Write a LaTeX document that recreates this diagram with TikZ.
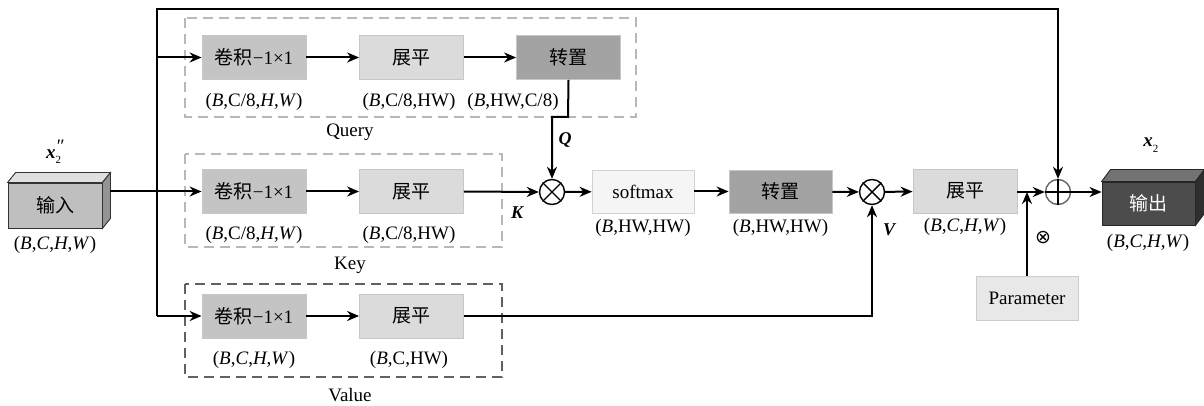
\documentclass[tikz,border=0pt]{standalone}
\usepackage{fontspec}
\setmainfont{Liberation Serif}
\newfontfamily\cjk{Noto Sans CJK SC}
\newfontfamily\dvs{DejaVu Sans}
\usetikzlibrary{arrows.meta,calc}
\newcommand{\xsub}[2]{\textbf{\textit{x}}\makebox[0pt][l]{\raisebox{-0.3em}{\fontsize{11}{11}\selectfont #1}}\raisebox{0.3em}{\fontsize{19}{19}\selectfont #2}}
\newcommand{\iv}[1]{\textit{#1}}
\begin{document}
\begin{tikzpicture}[x=1pt,y=-1pt,
  font=\fontsize{19}{21}\selectfont,
  arr/.style={-{Stealth[length=12pt,width=10pt]}, line width=2pt},
  ln/.style={line width=2pt},
  blk/.style={draw=black!22, line width=0.8pt, minimum width=104pt, minimum height=44pt, inner sep=0pt},
  conv/.style={blk, fill=black!23},
  flat/.style={blk, fill=black!14},
  trans/.style={blk, fill=black!36},
  grp/.style={dash pattern=on 10pt off 6pt, line width=1.8pt},
  op/.style={circle, draw, line width=1.4pt, minimum size=25pt, inner sep=0pt},
  lbl/.style={inner sep=0pt},
  bold/.style={inner sep=0pt, font=\fontsize{18}{20}\selectfont\bfseries\itshape},
]
\useasboundingbox (0,0) rectangle (1204,406);

% groups
\draw[grp, draw=black!28] (185,18) rectangle (636,117);
\draw[grp, draw=black!28] (185,154) rectangle (502,247);
\draw[grp, draw=black!62] (185,284) rectangle (502,377);
\node[lbl] (lq) at (350,132) {Query};
\node[lbl] (lk) at (350,265) {Key};
\node[lbl] (lv) at (350,395) {Value};

% input 3D box
\node[draw=black!80, line width=0.9pt, fill=black!25, minimum width=94pt, minimum height=45pt, inner sep=0pt] (in) at (55,205.5) {\cjk 输入};
\draw[draw=black!80, line width=0.9pt, fill=black!12] (in.north west) -- ++(8,-10) -- ($(in.north east)+(8,-10)$) -- (in.north east) -- cycle;
\draw[draw=black!80, line width=0.9pt, fill=black!42] (in.north east) -- ++(8,-10) -- ($(in.south east)+(8,-10)$) -- (in.south east) -- cycle;
\node[lbl] (inx) at (55,152) {\xsub{2}{\textit{″}}};
\node[lbl] (ins) at (55,245) {(\iv{B},\iv{C},\iv{H},\iv{W})};

% Q row
\node[conv] (qc) at (254,57.5) {{\cjk 卷积}−1×1};
\node[flat] (qf) at (411.5,57.5) {\cjk 展平};
\node[trans] (qt) at (568.5,57.5) {\cjk 转置};
\node[lbl] at (254,102) {(\iv{B},C/8,\iv{H},\iv{W})};
\node[lbl] at (409,102) {(\iv{B},C/8,HW)};
\node[lbl] at (513,102) {(\iv{B},HW,C/8)};

% K row
\node[conv] (kc) at (254,191.5) {{\cjk 卷积}−1×1};
\node[flat] (kf) at (411.5,191.5) {\cjk 展平};
\node[lbl] at (254,235) {(\iv{B},C/8,\iv{H},\iv{W})};
\node[lbl] at (409,235) {(\iv{B},C/8,HW)};

% V row
\node[conv] (vc) at (254,316) {{\cjk 卷积}−1×1};
\node[flat] (vf) at (411.5,316) {\cjk 展平};
\node[lbl] at (254,360) {(\iv{B},\iv{C},\iv{H},\iv{W})};
\node[lbl] at (409,360) {(\iv{B},C,HW)};

% main row
\node[op] (o1) at (552,192) {};
\draw[line width=1.4pt] (o1.north west) -- (o1.south east) (o1.north east) -- (o1.south west);
\node[blk, draw=black!18, fill=black!4, minimum width=102pt, minimum height=43pt] (sm) at (643,191.5) {softmax};
\node[lbl] at (643,228) {(\iv{B},HW,HW)};
\node[trans, minimum width=103pt, minimum height=43pt] (t2) at (780.5,191.5) {\cjk 转置};
\node[lbl] at (780.5,228) {(\iv{B},HW,HW)};
\node[op] (o2) at (872,192) {};
\draw[line width=1.4pt] (o2.north west) -- (o2.south east) (o2.north east) -- (o2.south west);
\node[flat] (f3) at (965,191) {\cjk 展平};
\node[lbl] at (965,227) {(\iv{B},\iv{C},\iv{H},\iv{W})};
\node[op, draw=black!60] (pl) at (1058,192) {};
\draw[line width=1.4pt] (pl.north) -- (pl.south) (pl.west) -- (pl.east);
\node[blk, draw=black!20, fill=black!9, minimum width=102pt] (pa) at (1027,298) {Parameter};
\node[lbl, font=\dvs\fontsize{19}{19}\selectfont] (ot) at (1043,238) {⊗};

% output 3D box
\node[draw=black!85, line width=0.9pt, fill=black!70, minimum width=93pt, minimum height=43pt, inner sep=0pt, text=white] (out) at (1148.5,203.5) {\cjk 输出};
\draw[draw=black!85, line width=0.9pt, fill=black!55] (out.north west) -- ++(9,-12) -- ($(out.north east)+(9,-12)$) -- (out.north east) -- cycle;
\draw[draw=black!85, line width=0.9pt, fill=black!82] (out.north east) -- ++(9,-12) -- ($(out.south east)+(9,-12)$) -- (out.south east) -- cycle;
\node[lbl] (outx) at (1148,145) {\xsub{2}{}};
\node[lbl] (outs) at (1148,243) {(\iv{B},\iv{C},\iv{H},\iv{W})};

% labels
\node[bold] (Q) at (565,140) {Q};
\node[bold] (K) at (517,213) {K};
\node[bold] (V) at (889,230) {V};

% connectors
\coordinate (sTop) at (157,9);
\coordinate (sV) at (157,316);
\draw[ln] (sTop) -- (sV);
\draw[arr] ($(in.east |- kc.west)+(8,0)$) -- (kc.west);
\draw[arr] (sTop |- qc.west) -- (qc.west);
\draw[arr] (sV) -- (vc.west);
\draw[arr] (qc) -- (qf);
\draw[arr] (qf) -- (qt);
\draw[arr] (kc) -- (kf);
\draw[arr] (vc) -- (vf);
\draw[arr] (qt.south) -- (568,117) -- (o1.north |- 0,117) -- (o1.north);
\draw[arr] (kf.east) -- (o1.west);
\draw[arr] (o1) -- (sm);
\draw[arr] (sm) -- (t2);
\draw[arr] (t2) -- (o2);
\draw[arr] (o2) -- (f3);
\draw[arr] (vf.east) -- (o2.south |- vf.east) -- (o2.south);
\draw[arr] (f3.east |- pl.west) -- (pl.west);
\draw[arr] (pa.north) -- (pa.north |- pl.west);
\draw[arr, line cap=rect] (sTop) -- (pl.north |- sTop) -- (pl.north);
\draw[arr] (pl.east) -- (out.west |- pl.east);
\end{tikzpicture}
\end{document}
